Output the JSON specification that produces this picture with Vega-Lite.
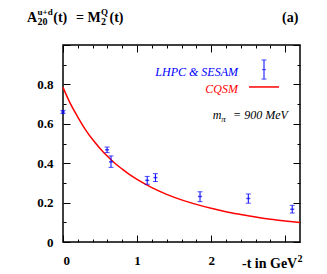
{
  "$schema": "https://vega.github.io/schema/vega-lite/v6.json",
  "autosize": {"type": "none"},
  "width": 237,
  "height": 197,
  "padding": {"left": 63, "top": 45, "right": 27, "bottom": 32},
  "background": "white",
  "config": {"view": {"stroke": "black", "strokeWidth": 1.5}, "text": {"font": "Liberation Serif, Times New Roman, DejaVu Serif, serif"}},
  "datasets": {
    "curve": [
      {"t": 0, "a": 0.785}, {"t": 0.1, "a": 0.702}, {"t": 0.2, "a": 0.634}, {"t": 0.3, "a": 0.572},
      {"t": 0.4, "a": 0.52}, {"t": 0.5, "a": 0.475}, {"t": 0.6, "a": 0.435}, {"t": 0.7, "a": 0.4},
      {"t": 0.8, "a": 0.37}, {"t": 0.9, "a": 0.342}, {"t": 1.0, "a": 0.318}, {"t": 1.2, "a": 0.276},
      {"t": 1.4, "a": 0.242}, {"t": 1.6, "a": 0.214}, {"t": 1.8, "a": 0.191}, {"t": 2.0, "a": 0.171},
      {"t": 2.2, "a": 0.154}, {"t": 2.4, "a": 0.14}, {"t": 2.6, "a": 0.127}, {"t": 2.8, "a": 0.116},
      {"t": 3.0, "a": 0.107}, {"t": 3.2, "a": 0.099}
    ],
    "lattice": [
      {"t": 0, "a": 0.66, "lo": 0.652, "hi": 0.668},
      {"t": 0.595, "a": 0.468, "lo": 0.454, "hi": 0.482},
      {"t": 0.648, "a": 0.407, "lo": 0.379, "hi": 0.437},
      {"t": 1.137, "a": 0.313, "lo": 0.293, "hi": 0.333},
      {"t": 1.248, "a": 0.327, "lo": 0.307, "hi": 0.347},
      {"t": 1.85, "a": 0.231, "lo": 0.205, "hi": 0.255},
      {"t": 2.502, "a": 0.221, "lo": 0.197, "hi": 0.244},
      {"t": 3.095, "a": 0.166, "lo": 0.147, "hi": 0.186}
    ],
    "one": [{"k": 1}]
  },
  "resolve": {"axis": {"x": "independent", "y": "independent"}},
  "layer": [
    {
      "data": {"name": "curve"},
      "mark": {"type": "line", "color": "#ff0000", "strokeWidth": 1.5, "interpolate": "monotone"},
      "encoding": {
        "x": {"field": "t", "type": "quantitative",
          "scale": {"domain": [0, 3.2], "nice": false, "zero": false},
          "axis": {"orient": "bottom", "title": null, "domain": false, "grid": false,
            "values": [0, 0.2, 0.4, 0.6, 0.8, 1, 1.2, 1.4, 1.6, 1.8, 2, 2.2, 2.4, 2.6, 2.8, 3],
            "tickColor": "black", "tickWidth": 1,
            "tickSize": {"condition": {"test": "abs(datum.value - round(datum.value)) < 0.001", "value": -7}, "value": -3},
            "labelExpr": "(abs(datum.value - round(datum.value)) < 0.001 && datum.value < 2.5) ? format(datum.value, 'd') : ''",
            "labelFont": "Liberation Serif, Times New Roman, DejaVu Serif, serif", "labelFontWeight": "bold", "labelFontSize": 13,
            "labelColor": "black", "labelPadding": 19}},
        "y": {"field": "a", "type": "quantitative",
          "scale": {"domain": [0, 1], "nice": false, "zero": false},
          "axis": {"orient": "left", "title": null, "domain": false, "grid": false,
            "values": [0, 0.1, 0.2, 0.3, 0.4, 0.5, 0.6, 0.7, 0.8, 0.9, 1],
            "tickColor": "black", "tickWidth": 1,
            "tickSize": {"condition": {"test": "abs(datum.value * 5 - round(datum.value * 5)) < 0.001", "value": -7}, "value": -3},
            "labelExpr": "(abs(datum.value * 5 - round(datum.value * 5)) < 0.001 && datum.value < 0.95) ? (datum.value < 0.01 ? '0' : format(datum.value, '.1f')) : ''",
            "labelFont": "Liberation Serif, Times New Roman, DejaVu Serif, serif", "labelFontWeight": "bold", "labelFontSize": 13,
            "labelColor": "black", "labelPadding": 17}}
      }
    },
    {
      "data": {"name": "lattice"},
      "mark": {"type": "rule", "color": "#0000ff", "strokeWidth": 1},
      "encoding": {
        "x": {"field": "t", "type": "quantitative",
          "axis": {"orient": "top", "title": null, "domain": false, "grid": false, "labels": false,
            "values": [0, 0.2, 0.4, 0.6, 0.8, 1, 1.2, 1.4, 1.6, 1.8, 2, 2.2, 2.4, 2.6, 2.8, 3],
            "tickColor": "black", "tickWidth": 1,
            "tickSize": {"condition": {"test": "abs(datum.value - round(datum.value)) < 0.001", "value": -7}, "value": -3}}},
        "y": {"field": "lo", "type": "quantitative",
          "axis": {"orient": "right", "title": null, "domain": false, "grid": false, "labels": false,
            "values": [0, 0.1, 0.2, 0.3, 0.4, 0.5, 0.6, 0.7, 0.8, 0.9, 1],
            "tickColor": "black", "tickWidth": 1,
            "tickSize": {"condition": {"test": "abs(datum.value * 5 - round(datum.value * 5)) < 0.001", "value": -7}, "value": -3}}},
        "y2": {"field": "hi"}
      }
    },
    {
      "data": {"name": "lattice"},
      "mark": {"type": "tick", "orient": "horizontal", "color": "#0000ff", "size": 5, "thickness": 1},
      "encoding": {
        "x": {"field": "t", "type": "quantitative", "axis": null},
        "y": {"field": "lo", "type": "quantitative", "axis": null}
      }
    },
    {
      "data": {"name": "lattice"},
      "mark": {"type": "tick", "orient": "horizontal", "color": "#0000ff", "size": 5, "thickness": 1},
      "encoding": {
        "x": {"field": "t", "type": "quantitative", "axis": null},
        "y": {"field": "hi", "type": "quantitative", "axis": null}
      }
    },
    {
      "data": {"name": "lattice"},
      "mark": {"type": "tick", "orient": "horizontal", "color": "#0000ff", "size": 4, "thickness": 1.5},
      "encoding": {
        "x": {"field": "t", "type": "quantitative", "axis": null},
        "y": {"field": "a", "type": "quantitative", "axis": null}
      }
    },
    {
      "data": {"name": "one"},
      "mark": {"type": "rule", "color": "#0000ff", "strokeWidth": 1},
      "encoding": {
        "x": {"datum": 2.714, "type": "quantitative", "axis": null},
        "y": {"datum": 0.827, "type": "quantitative", "axis": null},
        "y2": {"datum": 0.924}
      }
    },
    {
      "data": {"name": "one"},
      "mark": {"type": "tick", "orient": "horizontal", "color": "#0000ff", "size": 5, "thickness": 1},
      "encoding": {
        "x": {"datum": 2.714, "type": "quantitative", "axis": null},
        "y": {"datum": 0.827, "type": "quantitative", "axis": null}
      }
    },
    {
      "data": {"name": "one"},
      "mark": {"type": "tick", "orient": "horizontal", "color": "#0000ff", "size": 5, "thickness": 1},
      "encoding": {
        "x": {"datum": 2.714, "type": "quantitative", "axis": null},
        "y": {"datum": 0.924, "type": "quantitative", "axis": null}
      }
    },
    {
      "data": {"name": "one"},
      "mark": {"type": "tick", "orient": "horizontal", "color": "#0000ff", "size": 4, "thickness": 1},
      "encoding": {
        "x": {"datum": 2.714, "type": "quantitative", "axis": null},
        "y": {"datum": 0.875, "type": "quantitative", "axis": null}
      }
    },
    {
      "data": {"name": "one"},
      "mark": {"type": "rule", "color": "#ff0000", "strokeWidth": 1.5},
      "encoding": {
        "x": {"datum": 2.511, "type": "quantitative", "axis": null},
        "x2": {"datum": 2.917},
        "y": {"datum": 0.787, "type": "quantitative", "axis": null}
      }
    },
    {
      "data": {"name": "one"},
      "mark": {"type": "text", "text": "LHPC & SESAM", "align": "right", "baseline": "alphabetic", "fontStyle": "italic", "fontSize": 12, "color": "#0000ff"},
      "encoding": {
        "x": {"datum": 2.363, "type": "quantitative", "axis": null},
        "y": {"datum": 0.843, "type": "quantitative", "axis": null}
      }
    },
    {
      "data": {"name": "one"},
      "mark": {"type": "text", "text": "CQSM", "align": "right", "baseline": "alphabetic", "fontStyle": "italic", "fontSize": 12, "color": "#ff0000"},
      "encoding": {
        "x": {"datum": 2.363, "type": "quantitative", "axis": null},
        "y": {"datum": 0.756, "type": "quantitative", "axis": null}
      }
    },
    {
      "data": {"name": "one"},
      "mark": {"type": "text", "text": "m", "align": "left", "baseline": "alphabetic", "fontStyle": "italic", "fontSize": 12, "color": "black"},
      "encoding": {
        "x": {"datum": 2.021, "type": "quantitative", "axis": null},
        "y": {"datum": 0.624, "type": "quantitative", "axis": null}
      }
    },
    {
      "data": {"name": "one"},
      "mark": {"type": "text", "text": "π", "align": "left", "baseline": "alphabetic", "fontStyle": "italic", "fontSize": 9, "color": "black"},
      "encoding": {
        "x": {"datum": 2.138, "type": "quantitative", "axis": null},
        "y": {"datum": 0.607, "type": "quantitative", "axis": null}
      }
    },
    {
      "data": {"name": "one"},
      "mark": {"type": "text", "text": "= 900 MeV", "align": "left", "baseline": "alphabetic", "fontStyle": "italic", "fontSize": 12, "color": "black"},
      "encoding": {
        "x": {"datum": 2.296, "type": "quantitative", "axis": null},
        "y": {"datum": 0.624, "type": "quantitative", "axis": null}
      }
    },
    {
      "data": {"name": "one"},
      "mark": {"type": "text", "text": "-t in GeV", "align": "left", "baseline": "alphabetic", "fontWeight": "bold", "fontSize": 14, "color": "black"},
      "encoding": {
        "x": {"datum": 2.417, "type": "quantitative", "axis": null},
        "y": {"datum": -0.132, "type": "quantitative", "axis": null}
      }
    },
    {
      "data": {"name": "one"},
      "mark": {"type": "text", "text": "2", "align": "left", "baseline": "alphabetic", "fontWeight": "bold", "fontSize": 10, "color": "black"},
      "encoding": {
        "x": {"datum": 3.165, "type": "quantitative", "axis": null},
        "y": {"datum": -0.1, "type": "quantitative", "axis": null}
      }
    },
    {
      "data": {"name": "one"},
      "mark": {"type": "text", "text": "A", "align": "left", "baseline": "alphabetic", "fontWeight": "bold", "fontSize": 14, "color": "black"},
      "encoding": {
        "x": {"datum": -0.486, "type": "quantitative", "axis": null},
        "y": {"datum": 1.117, "type": "quantitative", "axis": null}
      }
    },
    {
      "data": {"name": "one"},
      "mark": {"type": "text", "text": "u+d", "align": "left", "baseline": "alphabetic", "fontWeight": "bold", "fontSize": 9, "color": "black"},
      "encoding": {
        "x": {"datum": -0.344, "type": "quantitative", "axis": null},
        "y": {"datum": 1.152, "type": "quantitative", "axis": null}
      }
    },
    {
      "data": {"name": "one"},
      "mark": {"type": "text", "text": "20", "align": "left", "baseline": "alphabetic", "fontWeight": "bold", "fontSize": 10, "color": "black"},
      "encoding": {
        "x": {"datum": -0.344, "type": "quantitative", "axis": null},
        "y": {"datum": 1.1, "type": "quantitative", "axis": null}
      }
    },
    {
      "data": {"name": "one"},
      "mark": {"type": "text", "text": "(t)", "align": "left", "baseline": "alphabetic", "fontWeight": "bold", "fontSize": 14, "color": "black"},
      "encoding": {
        "x": {"datum": -0.132, "type": "quantitative", "axis": null},
        "y": {"datum": 1.117, "type": "quantitative", "axis": null}
      }
    },
    {
      "data": {"name": "one"},
      "mark": {"type": "text", "text": "=", "align": "left", "baseline": "alphabetic", "fontWeight": "bold", "fontSize": 14, "color": "black"},
      "encoding": {
        "x": {"datum": 0.176, "type": "quantitative", "axis": null},
        "y": {"datum": 1.117, "type": "quantitative", "axis": null}
      }
    },
    {
      "data": {"name": "one"},
      "mark": {"type": "text", "text": "M", "align": "left", "baseline": "alphabetic", "fontWeight": "bold", "fontSize": 14, "color": "black"},
      "encoding": {
        "x": {"datum": 0.331, "type": "quantitative", "axis": null},
        "y": {"datum": 1.117, "type": "quantitative", "axis": null}
      }
    },
    {
      "data": {"name": "one"},
      "mark": {"type": "text", "text": "Q", "align": "left", "baseline": "alphabetic", "fontWeight": "bold", "fontSize": 9, "color": "black"},
      "encoding": {
        "x": {"datum": 0.513, "type": "quantitative", "axis": null},
        "y": {"datum": 1.152, "type": "quantitative", "axis": null}
      }
    },
    {
      "data": {"name": "one"},
      "mark": {"type": "text", "text": "2", "align": "left", "baseline": "alphabetic", "fontWeight": "bold", "fontSize": 10, "color": "black"},
      "encoding": {
        "x": {"datum": 0.513, "type": "quantitative", "axis": null},
        "y": {"datum": 1.1, "type": "quantitative", "axis": null}
      }
    },
    {
      "data": {"name": "one"},
      "mark": {"type": "text", "text": "(t)", "align": "left", "baseline": "alphabetic", "fontWeight": "bold", "fontSize": 14, "color": "black"},
      "encoding": {
        "x": {"datum": 0.628, "type": "quantitative", "axis": null},
        "y": {"datum": 1.117, "type": "quantitative", "axis": null}
      }
    },
    {
      "data": {"name": "one"},
      "mark": {"type": "text", "text": "(a)", "align": "left", "baseline": "alphabetic", "fontWeight": "bold", "fontSize": 14, "color": "black"},
      "encoding": {
        "x": {"datum": 2.957, "type": "quantitative", "axis": null},
        "y": {"datum": 1.117, "type": "quantitative", "axis": null}
      }
    }
  ]
}
